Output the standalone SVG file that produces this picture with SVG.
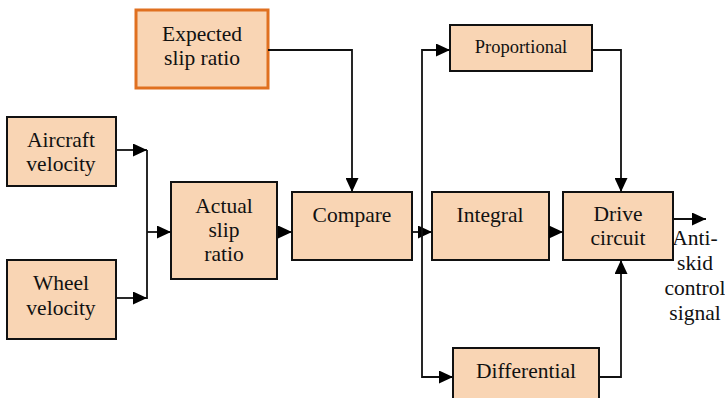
<svg xmlns="http://www.w3.org/2000/svg" width="725" height="398" viewBox="0 0 725 398">
<style>
.box{fill:#f9d5b4;stroke:#111;stroke-width:2}
.t{font-family:"Liberation Serif","Times New Roman",serif;font-size:21.5px;fill:#111;text-anchor:middle}
.w{fill:none;stroke:#111;stroke-width:1.8}
</style>
<defs>
<marker id="ah" viewBox="0 0 14 13" refX="14" refY="6.5" markerWidth="14" markerHeight="13" markerUnits="userSpaceOnUse" orient="auto">
<path d="M0,0 L14,6.5 L0,13 Z" fill="#000"/>
</marker>
</defs>
<rect width="725" height="398" fill="#fff"/>
<g id="expected">
<rect x="136" y="10" width="132" height="78" fill="#f9d5b4" stroke="#e07020" stroke-width="3"/>
<text class="t" x="202" y="41">Expected</text>
<text class="t" x="202" y="65">slip ratio</text>
</g>
<g id="aircraft">
<rect class="box" x="7" y="117" width="109" height="69"/>
<text class="t" x="61" y="147">Aircraft</text>
<text class="t" x="61" y="171">velocity</text>
</g>
<g id="wheel">
<rect class="box" x="7" y="260" width="109" height="79"/>
<text class="t" x="61" y="290">Wheel</text>
<text class="t" x="61" y="315">velocity</text>
</g>
<g id="actual">
<rect class="box" x="171" y="182" width="106" height="97"/>
<text class="t" x="224" y="213">Actual</text>
<text class="t" x="224" y="237">slip</text>
<text class="t" x="224" y="261">ratio</text>
</g>
<g id="compare">
<rect class="box" x="292" y="192" width="120" height="68"/>
<text class="t" x="352" y="222">Compare</text>
</g>
<g id="proportional">
<rect class="box" x="450" y="25" width="142" height="46"/>
<text class="t" x="521" y="53" style="font-size:18.5px">Proportional</text>
</g>
<g id="integral">
<rect class="box" x="432" y="192" width="117" height="68"/>
<text class="t" x="490" y="222">Integral</text>
</g>
<g id="drive">
<rect class="box" x="563" y="192" width="110" height="68"/>
<text class="t" x="618" y="221">Drive</text>
<text class="t" x="618" y="245">circuit</text>
</g>
<g id="differential">
<rect class="box" x="453" y="348" width="146" height="60"/>
<text class="t" x="526" y="378">Differential</text>
</g>
<g id="output-label">
<text class="t" x="695" y="245">Anti-</text>
<text class="t" x="695" y="270">skid</text>
<text class="t" x="695" y="295">control</text>
<text class="t" x="695" y="320">signal</text>
</g>
<g id="connectors">
<path class="w" d="M116,150 H147" marker-end="url(#ah)"/>
<path class="w" d="M116,298 H147" marker-end="url(#ah)"/>
<path class="w" d="M147,150 V299"/>
<path class="w" d="M147,232 H171" marker-end="url(#ah)"/>
<path class="w" d="M277,232 H292" marker-end="url(#ah)"/>
<path class="w" d="M268,50 H352 V192" marker-end="url(#ah)"/>
<path class="w" d="M412,232 H432" marker-end="url(#ah)"/>
<path class="w" d="M422,232 V50 H450" marker-end="url(#ah)"/>
<path class="w" d="M422,232 V377 H453" marker-end="url(#ah)"/>
<path class="w" d="M549,232 H563" marker-end="url(#ah)"/>
<path class="w" d="M592,50 H621 V192" marker-end="url(#ah)"/>
<path class="w" d="M599,377 H621 V260" marker-end="url(#ah)"/>
<path class="w" d="M673,219 H706" marker-end="url(#ah)"/>
</g>
</svg>
